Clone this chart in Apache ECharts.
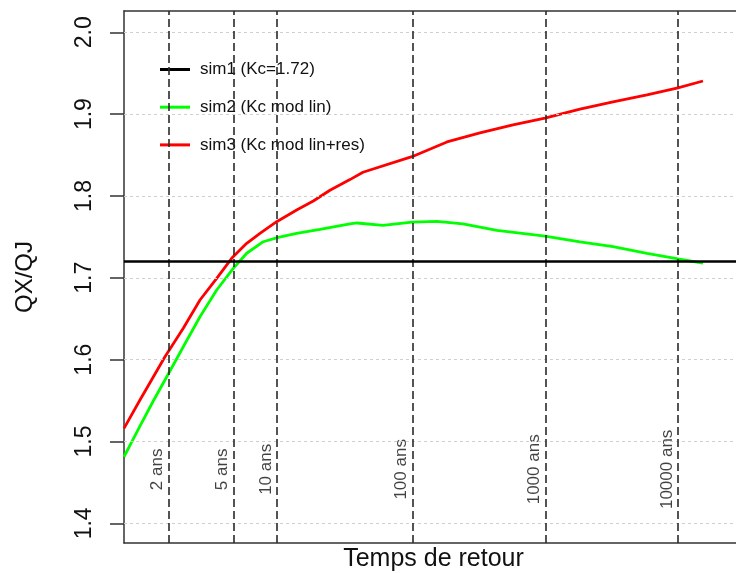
<!DOCTYPE html>
<html>
<head>
<meta charset="utf-8">
<script src="https://cdn.jsdelivr.net/npm/echarts@6/dist/echarts.min.js"></script>
<style>
html,body{margin:0;padding:0;background:#fff;}
#c{width:736px;height:573px;}
</style>
</head>
<body>
<div id="c"></div>
<script>
// ---- data (x = Gumbel reduced variate of the return period) ----
const returnPeriods = [2, 5, 10, 100, 1000, 10000];
const rpLabels = ["2 ans", "5 ans", "10 ans", "100 ans", "1000 ans", "10000 ans"];
const yTicks = [1.4, 1.5, 1.6, 1.7, 1.8, 1.9, 2.0];
const kcConst = 1.72;
const seriesNames = ["sim1 (Kc=1.72)", "sim2 (Kc mod lin)", "sim3 (Kc mod lin+res)"];

const sim2X = [-0.405, -0.128, 0.103, 0.364, 0.624, 0.914, 1.204, 1.492, 1.725, 2.013, 2.273, 2.592, 2.997, 3.517, 3.639, 4.090, 4.593, 5.027, 5.478, 6.069, 6.902, 7.510, 8.083, 8.673, 9.211, 9.645];
const sim2Y = [1.4814, 1.5189, 1.5495, 1.5825, 1.6158, 1.6525, 1.6851, 1.7116, 1.7300, 1.7441, 1.7495, 1.7544, 1.7593, 1.766, 1.767, 1.764, 1.768, 1.769, 1.766, 1.758, 1.751, 1.744, 1.738, 1.730, 1.723, 1.718];

const sim3X = [-0.405, -0.128, 0.103, 0.306, 0.624, 0.914, 1.204, 1.464, 1.725, 1.955, 2.245, 2.592, 2.881, 3.170, 3.517, 3.743, 4.593, 5.201, 5.773, 6.347, 6.902, 7.510, 8.083, 8.673, 9.211, 9.645];
const sim3Y = [1.5161, 1.5507, 1.5788, 1.6036, 1.6383, 1.6729, 1.6994, 1.7238, 1.7422, 1.7544, 1.7686, 1.7829, 1.7939, 1.807, 1.820, 1.829, 1.848, 1.866, 1.877, 1.887, 1.895, 1.906, 1.915, 1.9235, 1.932, 1.9405];

// ---- helpers ----
const gumbel = T => -Math.log(-Math.log(1 - 1 / T));
const zip = (xs, ys) => xs.map((x, i) => [x, ys[i]]);
const FONT = "'Liberation Sans', Arial, sans-serif";
const X_MIN = -0.405, X_MAX = 10.218, Y_MIN = 1.376, Y_MAX = 2.026;
const LABEL_Y = 1.466;

const chart = echarts.init(document.getElementById('c'), null, {renderer: 'canvas'});
chart.setOption({
  animation: false,
  backgroundColor: '#ffffff',
  grid: {left: 124, top: 11, bottom: 30, right: 0, containLabel: false, outerBoundsMode: 'none'},
  legend: {
    data: seriesNames,
    orient: 'vertical',
    left: 155, top: 56,
    icon: 'rect',
    itemWidth: 30, itemHeight: 3,
    itemGap: 20.7,
    textStyle: {fontFamily: FONT, fontSize: 17, color: '#111', lineHeight: 17, padding: [0, 0, 0, 5]},
    selectedMode: false
  },
  xAxis: [{
    type: 'value', min: X_MIN, max: X_MAX,
    name: 'Temps de retour', nameLocation: 'middle', nameGap: 4,
    nameTextStyle: {fontFamily: FONT, fontSize: 25, color: '#111', verticalAlign: 'top', padding: [0, 0, 0, 7]},
    axisLine: {show: true, onZero: false, lineStyle: {color: '#333', width: 1.5}},
    axisTick: {show: false}, axisLabel: {show: false}, splitLine: {show: false}
  }, {
    type: 'value', position: 'top', min: X_MIN, max: X_MAX,
    axisLine: {show: true, onZero: false, lineStyle: {color: '#333', width: 1.5}},
    axisTick: {show: false}, axisLabel: {show: false}, splitLine: {show: false}
  }],
  yAxis: {
    type: 'value', min: Y_MIN, max: Y_MAX,
    name: 'QX/QJ', nameLocation: 'middle', nameGap: 87,
    nameTextStyle: {fontFamily: FONT, fontSize: 24, color: '#111'},
    axisLine: {show: true, onZero: false, lineStyle: {color: '#333', width: 1.5}},
    axisTick: {show: true, length: 14, customValues: yTicks, lineStyle: {color: '#333', width: 1.5}},
    axisLabel: {show: true, customValues: yTicks, rotate: 90, margin: 28,
      fontFamily: FONT, fontSize: 23, color: '#111',
      formatter: v => v.toFixed(1)},
    splitLine: {show: false}
  },
  series: [
    { // horizontal dotted grid at tick values
      name: 'hgrid', type: 'line', data: [], silent: true,
      markLine: {silent: true, symbol: ['none', 'none'], label: {show: false},
        lineStyle: {color: '#cfcfcf', type: [3, 3], width: 1},
        data: yTicks.map(v => ({yAxis: v}))}
    },
    { // return period dashed verticals
      name: 'rp', type: 'line', data: [], silent: true,
      markLine: {silent: true, symbol: ['none', 'none'], label: {show: false},
        lineStyle: {color: '#2a2a2a', type: [8, 4], width: 1.6},
        data: returnPeriods.map(T => ({xAxis: gumbel(T)}))}
    },
    { // return period labels
      name: 'rplab', type: 'scatter', symbolSize: 0, silent: true,
      data: returnPeriods.map((T, i) => ({value: [gumbel(T), LABEL_Y], name: rpLabels[i]})),
      label: {show: true, position: 'inside', rotate: 90, offset: [0, -11],
        formatter: p => p.name, fontFamily: FONT, fontSize: 17, color: '#111'}
    },
    {
      name: seriesNames[0], type: 'line', data: [],
      itemStyle: {color: '#000'}, lineStyle: {color: '#000', width: 2.6},
      markLine: {silent: true, symbol: ['none', 'none'], label: {show: false},
        lineStyle: {color: '#000', type: 'solid', width: 2.6},
        data: [{yAxis: kcConst}]}
    },
    {
      name: seriesNames[1], type: 'line', data: zip(sim2X, sim2Y),
      showSymbol: false, symbol: 'none',
      itemStyle: {color: '#00ff00'}, lineStyle: {color: '#00ff00', width: 2.8}
    },
    {
      name: seriesNames[2], type: 'line', data: zip(sim3X, sim3Y),
      showSymbol: false, symbol: 'none',
      itemStyle: {color: '#ff0000'}, lineStyle: {color: '#ff0000', width: 2.8}
    }
  ]
});
</script>
</body>
</html>
